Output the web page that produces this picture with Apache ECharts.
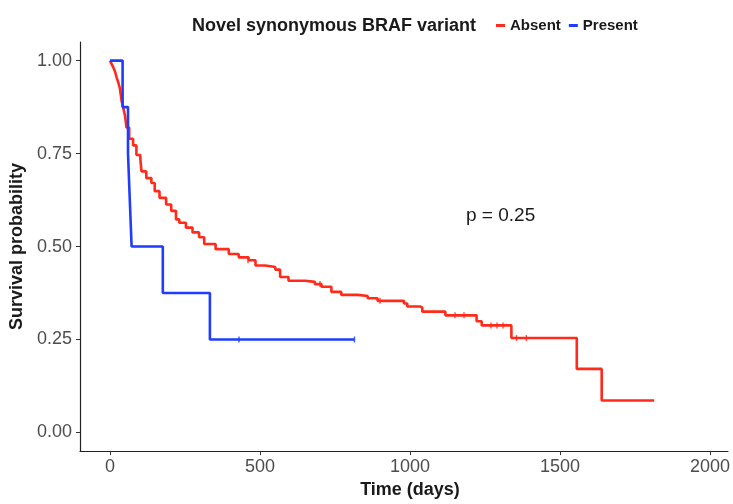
<!DOCTYPE html>
<html>
<head>
<meta charset="utf-8">
<script src="https://cdn.jsdelivr.net/npm/echarts@6/dist/echarts.min.js"></script>
<style>
  html, body { margin: 0; padding: 0; background: #fff; }
  #chart { width: 733px; height: 504px; }
</style>
</head>
<body>
<div id="chart"></div>
<script>
// Kaplan-Meier curves
var absentTime = [0, 6, 12, 17, 22, 28, 33, 39, 45, 50, 55, 64, 77, 88, 101, 105, 121, 138, 149, 165,
    187, 204, 220, 231, 253, 275, 297, 314, 352, 396, 429, 462, 485, 518, 551, 567, 595, 650, 683, 705,
    738, 771, 826, 859, 892, 980, 991, 1034, 1041, 1118, 1222, 1239, 1338, 1556, 1639, 1814];
var absentSurv = [1, 0.99, 0.98, 0.97, 0.955, 0.94, 0.925, 0.89, 0.87, 0.852, 0.82, 0.79, 0.772, 0.746, 0.737, 0.702, 0.684, 0.671, 0.649, 0.631,
    0.613, 0.596, 0.573, 0.564, 0.551, 0.538, 0.525, 0.507, 0.493, 0.48, 0.471, 0.463, 0.449, 0.445, 0.438, 0.418, 0.408, 0.405, 0.399, 0.392,
    0.378, 0.37, 0.367, 0.361, 0.354, 0.347, 0.339, 0.336, 0.325, 0.315, 0.299, 0.288, 0.254, 0.171, 0.086, 0.086];
var presentTime = [0, 42, 60, 66, 72, 176, 333, 815];
var presentSurv = [1, 0.875, 0.75, 0.625, 0.5, 0.375, 0.25, 0.25];

// censored observations
var absentCensorTime = [460, 700, 900, 1150, 1180, 1270, 1290, 1310, 1355, 1388];
var absentCensorSurv = [0.463, 0.399, 0.354, 0.315, 0.315, 0.288, 0.288, 0.288, 0.254, 0.254];
var presentCensorTime = [430, 815];
var presentCensorSurv = [0.25, 0.25];

var xTicks = [0, 500, 1000, 1500, 2000];
var yTicks = [0, 0.25, 0.5, 0.75, 1];

var red = '#ff2a1a';
var blue = '#1f3cff';
var font = 'Liberation Sans, Arial, Helvetica, sans-serif';

function pairs(xs, ys) {
    var out = [];
    for (var i = 0; i < xs.length; i++) {
        out.push([xs[i], ys[i]]);
    }
    return out;
}

var myChart = echarts.init(document.getElementById('chart'));
var option = {
    animation: false,
    backgroundColor: '#fff',
    textStyle: { fontFamily: font },
    title: {
        text: 'Novel synonymous BRAF variant',
        left: 187,
        top: 12,
        textStyle: { fontSize: 18, fontWeight: 'bold', color: '#1a1a1a', fontFamily: font }
    },
    legend: {
        data: ['Absent', 'Present'],
        left: 491,
        top: 13,
        icon: 'rect',
        itemWidth: 9,
        itemHeight: 3,
        itemGap: 8,
        textStyle: { fontSize: 15, fontWeight: 'bold', color: '#1a1a1a', fontFamily: font }
    },
    grid: { left: 80, right: 0, top: 42, bottom: 48 },
    xAxis: {
        type: 'value',
        min: -100,
        max: 2060,
        name: 'Time (days)',
        nameLocation: 'middle',
        nameGap: 27,
        nameTextStyle: { fontSize: 18, fontWeight: 'bold', color: '#1a1a1a', fontFamily: font, padding: [0, 0, 0, 12] },
        splitLine: { show: false },
        axisLine: { onZero: false, lineStyle: { color: '#222', width: 1.2 } },
        axisTick: { customValues: xTicks, length: 4, lineStyle: { color: '#333' } },
        axisLabel: {
            customValues: xTicks,
            margin: 7,
            fontSize: 18,
            color: '#4d4d4d',
            fontFamily: font,
            formatter: function (v) { return String(v); }
        }
    },
    yAxis: {
        type: 'value',
        min: -0.05,
        max: 1.05,
        name: 'Survival probability',
        nameLocation: 'middle',
        nameGap: 52,
        nameTextStyle: { fontSize: 18, fontWeight: 'bold', color: '#1a1a1a', fontFamily: font },
        splitLine: { show: false },
        axisLine: { show: true, onZero: false, lineStyle: { color: '#222', width: 1.2 } },
        axisTick: { show: true, customValues: yTicks, length: 4, lineStyle: { color: '#333' } },
        axisLabel: {
            customValues: yTicks,
            margin: 8,
            fontSize: 18,
            color: '#4d4d4d',
            fontFamily: font,
            formatter: function (v) { return v.toFixed(2); }
        }
    },
    series: [
        {
            name: 'Absent',
            type: 'line',
            step: 'end',
            showSymbol: false,
            color: red,
            lineStyle: { color: red, width: 2.6 },
            data: pairs(absentTime, absentSurv)
        },
        {
            name: 'Present',
            type: 'line',
            step: 'end',
            showSymbol: false,
            color: blue,
            lineStyle: { color: blue, width: 2.6 },
            data: pairs(presentTime, presentSurv)
        },
        {
            type: 'scatter',
            symbol: 'rect',
            symbolSize: [1.5, 6],
            itemStyle: { color: red },
            data: pairs(absentCensorTime, absentCensorSurv)
        },
        {
            type: 'scatter',
            symbol: 'rect',
            symbolSize: [1.5, 6],
            itemStyle: { color: blue },
            data: pairs(presentCensorTime, presentCensorSurv)
        }
    ],
    graphic: [
        {
            type: 'text',
            left: 466,
            top: 206,
            style: { text: 'p = 0.25', fontSize: 19, fill: '#1a1a1a', fontFamily: font }
        }
    ]
};
myChart.setOption(option);
</script>
</body>
</html>
